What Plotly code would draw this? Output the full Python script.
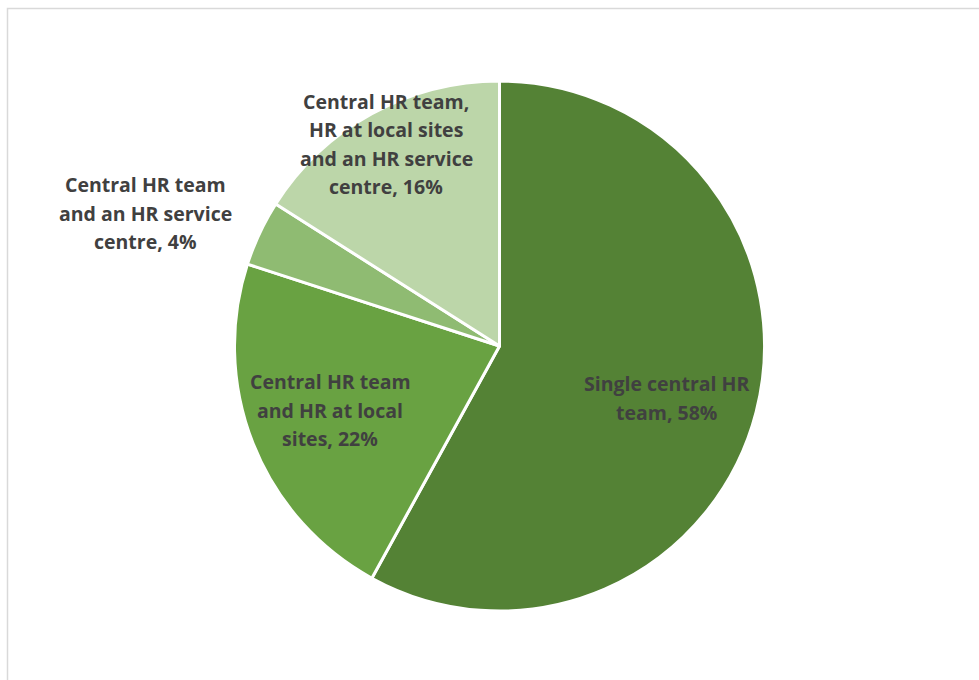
import plotly.graph_objects as go

# Share of organisations by HR structure (%)
categories = [
    "Single central HR team",
    "Central HR team and HR at local sites",
    "Central HR team and an HR service centre",
    "Central HR team, HR at local sites and an HR service centre",
]
shares = [58, 22, 4, 16]
colors = ["#548235", "#69A242", "#8FBB72", "#BCD6A9"]

# Wrapped label lines (the last line gets the percentage appended)
label_lines = [
    ["Single central HR", "team"],
    ["Central HR team", "and HR at local", "sites"],
    ["Central HR team", "and an HR service", "centre"],
    ["Central HR team,", "HR at local sites", "and an HR service", "centre"],
]
# Label block centres in pixels (x, y from top)
label_centres = [(666, 398), (330, 410), (145, 213), (386, 144)]

W, H = 979, 680
cx, cy, r = 499.5, 346, 265

fig = go.Figure(
    go.Pie(
        labels=categories,
        values=shares,
        sort=False,
        direction="clockwise",
        rotation=0,
        marker=dict(colors=colors, line=dict(color="white", width=3)),
        textinfo="none",
        hoverinfo="label+percent",
        domain=dict(x=[(cx - r) / W, (cx + r) / W], y=[1 - (cy + r) / H, 1 - (cy - r) / H]),
        showlegend=False,
    )
)

line_gap = 28.5
annotations = []
for lines, share, (lx, ly) in zip(label_lines, shares, label_centres):
    text_lines = lines[:-1] + [f"{lines[-1]}, {share}%"]
    n = len(text_lines)
    for i, t in enumerate(text_lines):
        y_px = ly + (i - (n - 1) / 2) * line_gap
        annotations.append(
            dict(
                x=lx / W,
                y=1 - y_px / H,
                xref="paper",
                yref="paper",
                text=f"<b>{t}</b>",
                showarrow=False,
                xanchor="center",
                yanchor="middle",
                font=dict(family="Open Sans, sans-serif", size=19.5, color="#404040"),
            )
        )

fig.update_layout(
    width=W,
    height=H,
    margin=dict(l=0, r=0, t=0, b=0),
    paper_bgcolor="white",
    plot_bgcolor="white",
    annotations=annotations,
    shapes=[
        dict(
            type="rect",
            xref="paper",
            yref="paper",
            x0=7.5 / W,
            x1=1.05,
            y0=-0.05,
            y1=1 - 8.5 / H,
            line=dict(color="#D9D9D9", width=1.5),
            fillcolor="rgba(0,0,0,0)",
            layer="below",
        )
    ],
)

fig.write_html("out.html")
